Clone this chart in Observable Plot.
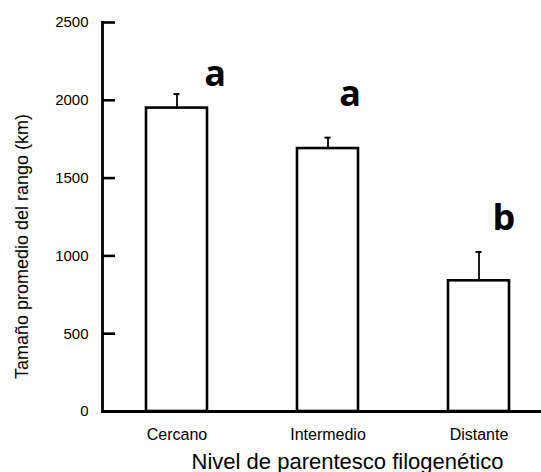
<!DOCTYPE html>
<html>
<head>
<meta charset="utf-8">
<script src="https://cdn.jsdelivr.net/npm/d3@7"></script>
<script src="https://cdn.jsdelivr.net/npm/@observablehq/plot@0.6"></script>
<style>
  body { margin: 0; background: #fff; }
  #chart svg { display: block; }
</style>
</head>
<body>
<div id="chart"></div>
<script>
const categories = ["Cercano", "Intermedio", "Distante"];
const means = [1950, 1690, 840];
const errors = [90, 70, 185];
const letters = ["a", "a", "b"];
const letterY = [2090, 1965, 1165];
const letterDx = [38, 22, 25];
const yTicks = [0, 500, 1000, 1500, 2000, 2500];
const yLabel = "Tamaño promedio del rango (km)";
const xLabel = "Nivel de parentesco filogenético";

const data = categories.map((c, i) => ({cat: c, mean: means[i], top: means[i] + errors[i]}));

const font = "'Liberation Sans', Arial, sans-serif";

const chart = Plot.plot({
  width: 541,
  height: 472,
  marginLeft: 102,
  marginRight: 0,
  marginTop: 22,
  marginBottom: 61,
  style: {fontFamily: font, background: "#fff", color: "#000"},
  x: {domain: categories, range: [101.5, 554.5], paddingInner: 0.596, paddingOuter: 0.298, axis: null},
  y: {domain: [0, 2500], axis: null},
  marks: [
    Plot.barY(data, {x: "cat", y: "mean", fill: "white", stroke: "black", strokeWidth: 2.6}),
    Plot.ruleX(data, {x: "cat", y1: "mean", y2: "top", stroke: "black", strokeWidth: 1.8}),
    Plot.tickY(data, {x: "cat", y: "top", stroke: "black", strokeWidth: 2, insetLeft: 27.5, insetRight: 27.5}),
    Plot.axisY({ticks: yTicks, tickSize: -13, tickPadding: 27, tickFormat: d => String(d), fontSize: 15, strokeWidth: 2.6, label: null}),
    Plot.axisX({tickSize: 0, tickPadding: 17, fontSize: 16, label: null}),
    Plot.frame({anchor: "left", stroke: "black", strokeWidth: 2.8}),
    Plot.ruleY([0], {stroke: "black", strokeWidth: 2.8}),
    ...letters.map((l, i) => Plot.text([data[i]], {
      x: "cat", y: () => letterY[i], text: () => l, dx: letterDx[i],
      lineAnchor: "bottom", fontSize: 36, fontWeight: 700,
      fontFamily: "'Open Sans', sans-serif", fill: "black"
    })),
    Plot.text([yLabel], {frameAnchor: "left", textAnchor: "middle", rotate: -90, dx: -80, dy: 29.5, fontSize: 18, fill: "black"}),
    Plot.text([xLabel], {frameAnchor: "bottom", textAnchor: "middle", dx: 25.5, dy: 57, fontSize: 22, fill: "black"})
  ]
});
document.getElementById("chart").appendChild(chart);
</script>
</body>
</html>
